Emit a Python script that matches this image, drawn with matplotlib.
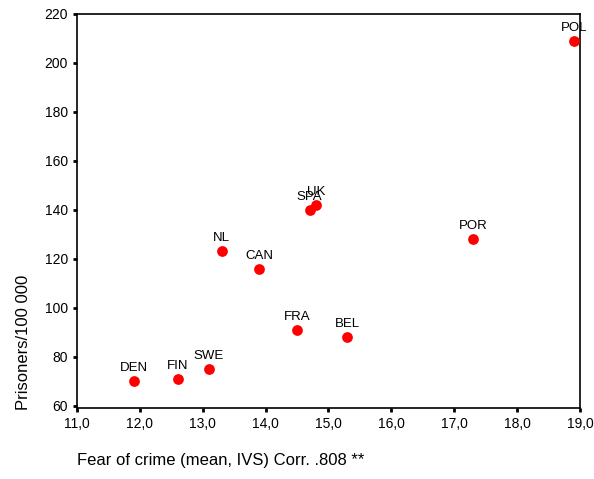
import matplotlib
matplotlib.use("Agg")
import matplotlib.pyplot as plt

countries = ["DEN", "FIN", "SWE", "NL", "CAN", "FRA", "BEL", "SPA", "UK", "POR", "POL"]
fear = [11.9, 12.6, 13.1, 13.3, 13.9, 14.5, 15.3, 14.7, 14.8, 17.3, 18.9]
prisoners = [70, 71, 75, 123, 116, 91, 88, 140, 142, 128, 209]
xticks = [11, 12, 13, 14, 15, 16, 17, 18, 19]
yticks = [60, 80, 100, 120, 140, 160, 180, 200, 220]

plt.rcParams['font.family'] = ['Liberation Sans', 'DejaVu Sans']
fig = plt.figure(figsize=(5.94, 4.79), dpi=100)
ax = fig.add_axes([0.1296, 0.148, 0.8468, 0.823])
ax.scatter(fear, prisoners, s=60, color="#ff0000", zorder=3, linewidths=0)
for c, x, y in zip(countries, fear, prisoners):
    ax.annotate(c, (x, y), xytext=(0, 5), textcoords="offset points",
                ha="center", va="bottom", fontsize=9.5)
ax.set_xlim(11, 19)
ax.set_ylim(59, 220)
ax.set_xticks(xticks)
ax.set_xticklabels([f"{t},0" for t in xticks])
ax.set_yticks(yticks)
ax.tick_params(labelsize=10, length=3, width=2, direction="out")
for s in ax.spines.values():
    s.set_linewidth(1.2)
fig.text(24 / 594, 1 - 410 / 479, "Prisoners/100 000", fontsize=12, rotation=90,
         ha="center", va="bottom")
fig.text(0.1296, 0.022, "Fear of crime (mean, IVS) Corr. .808 **", fontsize=12, ha="left", va="bottom")
fig.savefig("out.png", dpi=100)
